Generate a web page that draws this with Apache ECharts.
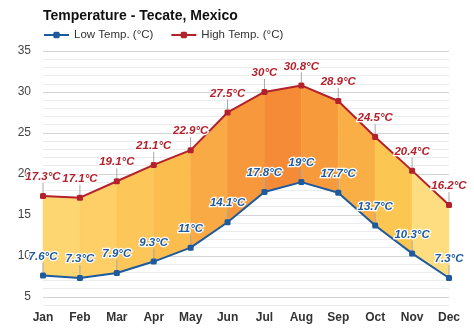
<!DOCTYPE html>
<html>
<head>
<meta charset="utf-8">
<script src="https://cdn.jsdelivr.net/npm/echarts@6/dist/echarts.min.js"></script>
<style>
  html, body { margin: 0; padding: 0; background: #fff; }
  #chart { width: 474px; height: 331px; }
</style>
</head>
<body>
<div id="chart"></div>
<script>
// Monthly climate averages for Tecate, Mexico
const months = ['Jan', 'Feb', 'Mar', 'Apr', 'May', 'Jun', 'Jul', 'Aug', 'Sep', 'Oct', 'Nov', 'Dec'];
const lowTemps = [7.6, 7.3, 7.9, 9.3, 11, 14.1, 17.8, 19, 17.7, 13.7, 10.3, 7.3];
const highTemps = [17.3, 17.1, 19.1, 21.1, 22.9, 27.5, 30, 30.8, 28.9, 24.5, 20.4, 16.2];
const yTickLabels = [5, 10, 15, 20, 25, 30, 35];

// Fill colour for each month-to-month band (cool yellow -> hot orange)
const bandColors = ['#fdd672', '#fdcf66', '#fcc758', '#fbbd4e', '#f9aa45', '#f7983d',
                    '#f58b36', '#f79a3c', '#f9af45', '#fbc652', '#fddd80'];

const FONT = '"Liberation Sans", Arial, Helvetica, sans-serif';
const HIGH_COLOR = '#b3212c';
const LOW_COLOR = '#1d5a9e';

// Band polygons: one item per pair of neighbouring months
const bandData = [];
for (let i = 0; i < months.length - 1; i++) {
  bandData.push([i, lowTemps[i], lowTemps[i + 1], highTemps[i], highTemps[i + 1]]);
}

// Short leader ticks from each point up to its label
const leaderData = [];
months.forEach((m, i) => {
  leaderData.push([i, highTemps[i]]);
  leaderData.push([i, lowTemps[i]]);
});

const fmt = p => p.value + '°C';

const chart = echarts.init(document.getElementById('chart'), null, { renderer: 'canvas' });

const pointLabel = color => ({
  show: true,
  position: 'top',
  distance: 10,
  formatter: fmt,
  fontFamily: FONT,
  fontSize: 11.5,
  fontWeight: 'bold',
  fontStyle: 'italic',
  color: color,
  textBorderColor: '#ffffff',
  textBorderWidth: 2.5
});

chart.setOption({
  animation: false,
  backgroundColor: '#ffffff',
  title: {
    text: 'Temperature - Tecate, Mexico',
    left: 43,
    top: 9,
    padding: 0,
    textStyle: { fontFamily: FONT, fontSize: 14, fontWeight: 'bold', color: '#111' }
  },
  legend: {
    left: 43,
    top: 29,
    padding: 0,
    itemGap: 17,
    itemWidth: 25,
    itemHeight: 8,
    data: ['Low Temp. (°C)', 'High Temp. (°C)'],
    textStyle: { fontFamily: FONT, fontSize: 11.5, color: '#333' }
  },
  grid: { left: 43, right: 25, top: 51, bottom: 26, containLabel: false },
  xAxis: {
    type: 'category',
    data: months,
    boundaryGap: false,
    axisLine: { show: false },
    axisTick: { show: false },
    splitLine: { show: false },
    axisLabel: {
      margin: 7,
      fontFamily: FONT,
      fontSize: 12,
      fontWeight: 'bold',
      color: '#333'
    }
  },
  yAxis: {
    type: 'value',
    min: 4,
    max: 35,
    interval: 1,
    axisLine: { show: false },
    axisTick: { show: false },
    axisLabel: {
      margin: 12,
      fontFamily: FONT,
      fontSize: 12,
      color: '#444',
      formatter: v => (yTickLabels.indexOf(v) >= 0 ? String(v) : '')
    },
    splitLine: {
      show: true,
      lineStyle: {
        // ticks start at 4, so every fifth line (5, 10, ...) is a major one
        color: ['#ececec', '#d4d4d4', '#ececec', '#ececec', '#ececec'],
        width: 1
      }
    }
  },
  series: [
    {
      name: 'bands',
      type: 'custom',
      z: 1,
      silent: true,
      data: bandData,
      encode: { x: 0, y: [1, 2, 3, 4] },
      renderItem: function (params, api) {
        const i = api.value(0);
        const a = api.coord([i, api.value(1)]);
        const b = api.coord([i + 1, api.value(2)]);
        const c = api.coord([i + 1, api.value(4)]);
        const d = api.coord([i, api.value(3)]);
        return {
          type: 'polygon',
          shape: { points: [a, b, c, d] },
          style: { fill: bandColors[params.dataIndex], stroke: bandColors[params.dataIndex], lineWidth: 0.5 }
        };
      }
    },
    {
      name: 'leaders',
      type: 'custom',
      z: 2,
      silent: true,
      data: leaderData,
      encode: { x: 0, y: 1 },
      renderItem: function (params, api) {
        const p = api.coord([api.value(0), api.value(1)]);
        return {
          type: 'line',
          shape: { x1: p[0], y1: p[1] - 3, x2: p[0], y2: p[1] - 13 },
          style: { stroke: '#a8a8a8', lineWidth: 1 }
        };
      }
    },
    {
      name: 'Low Temp. (°C)',
      type: 'line',
      z: 4,
      data: lowTemps,
      symbol: 'roundRect',
      symbolSize: 6,
      legendIcon: 'circle',
      color: LOW_COLOR,
      lineStyle: { color: LOW_COLOR, width: 2 },
      itemStyle: { color: LOW_COLOR },
      label: pointLabel(LOW_COLOR)
    },
    {
      name: 'High Temp. (°C)',
      type: 'line',
      z: 4,
      data: highTemps,
      symbol: 'roundRect',
      symbolSize: 6,
      legendIcon: 'circle',
      color: HIGH_COLOR,
      lineStyle: { color: HIGH_COLOR, width: 2 },
      itemStyle: { color: HIGH_COLOR },
      label: pointLabel(HIGH_COLOR)
    }
  ]
});
</script>
</body>
</html>
